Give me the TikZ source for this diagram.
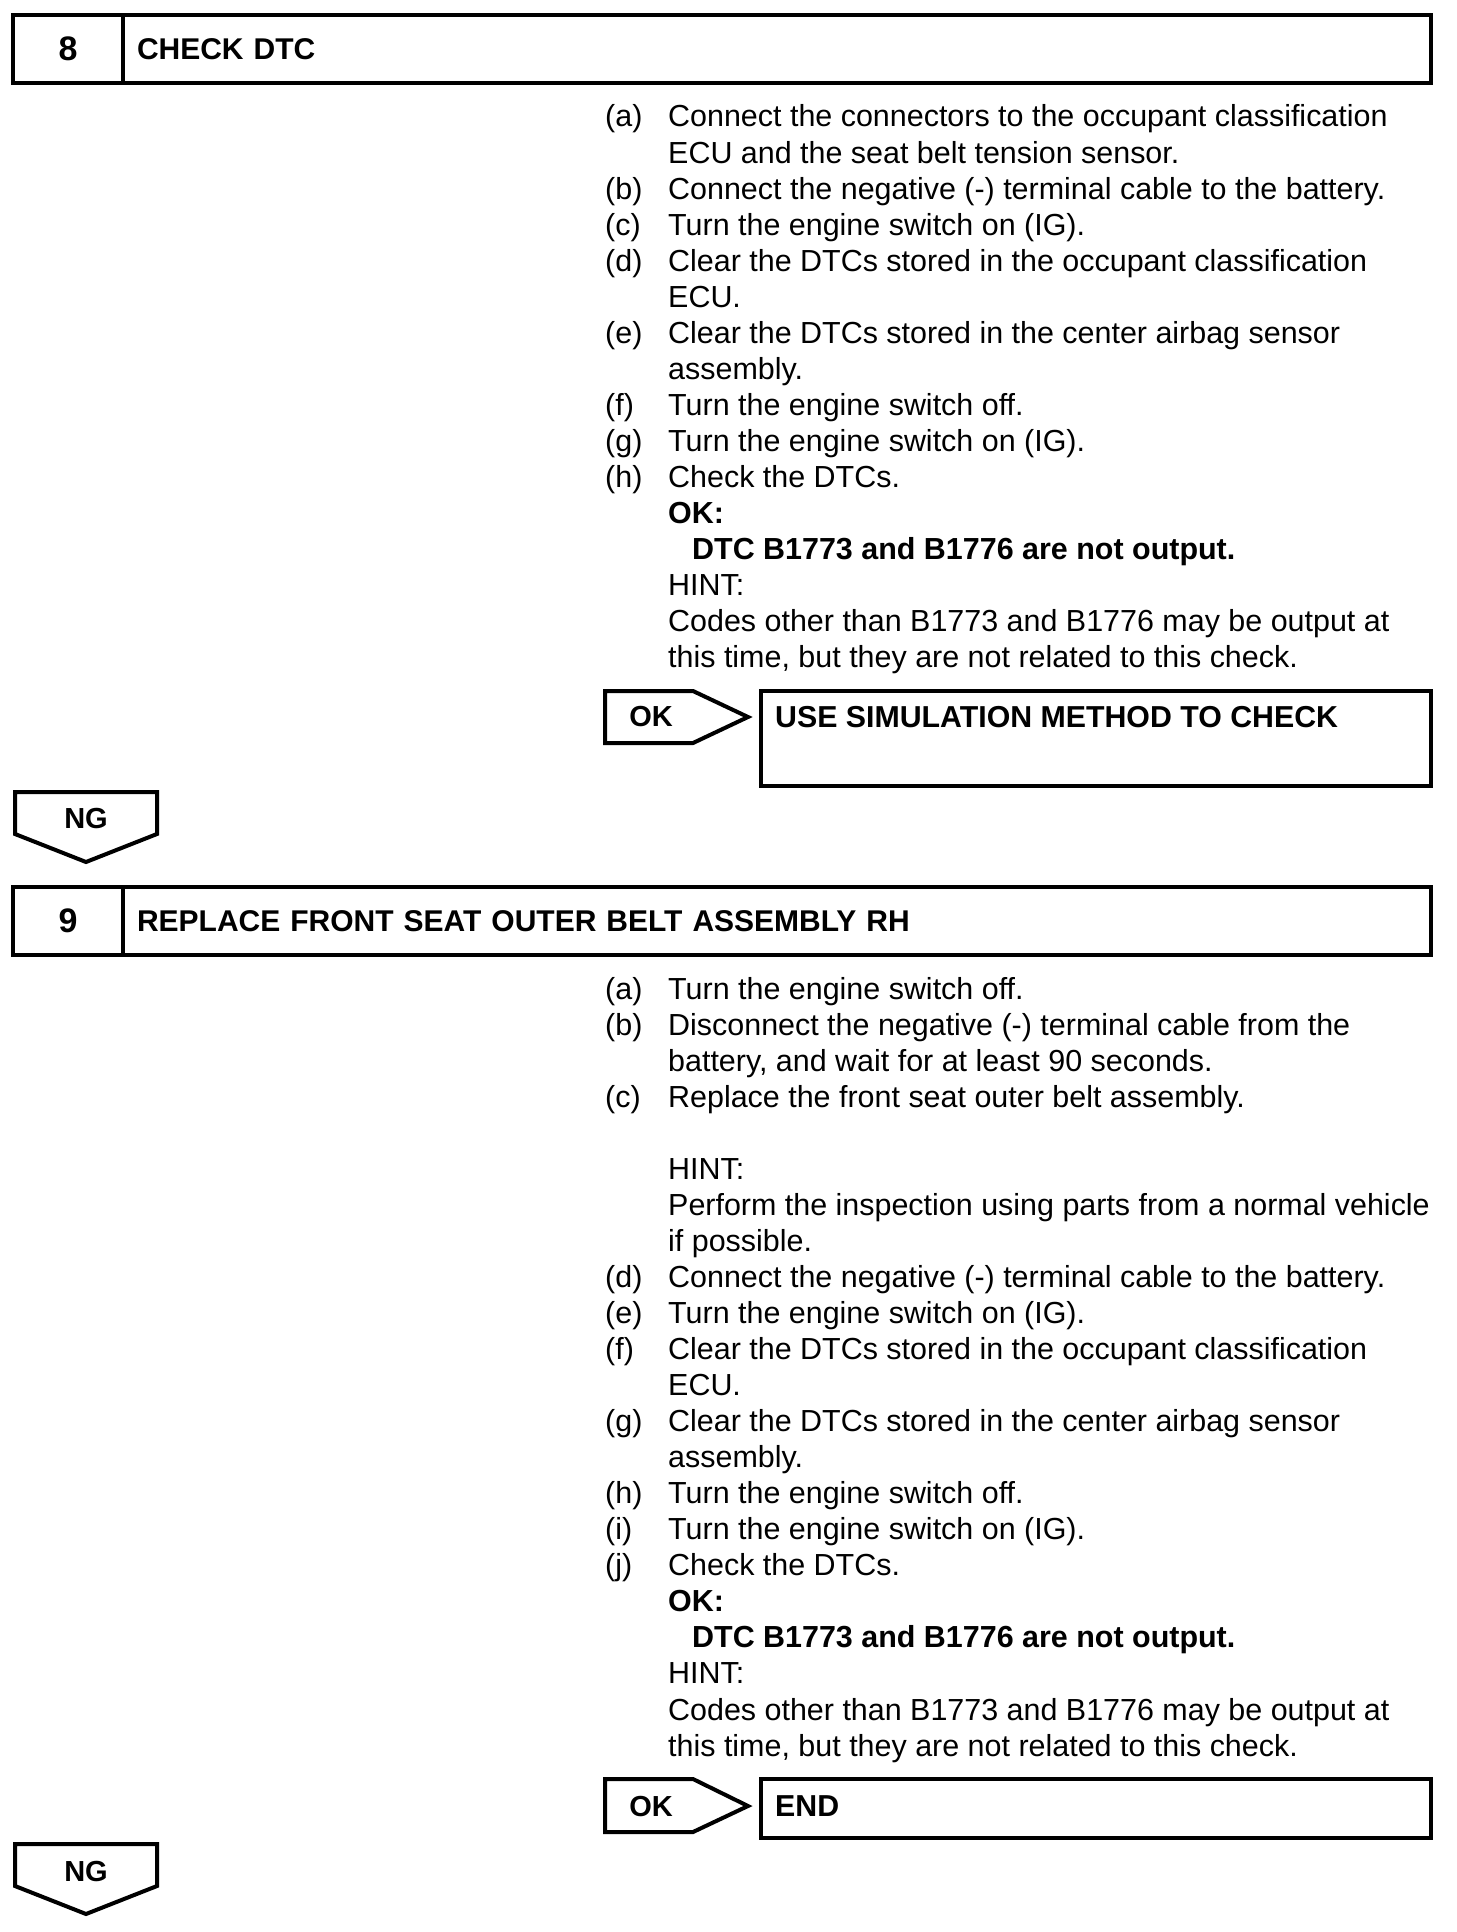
\documentclass[tikz,border=0pt]{standalone}
\usepackage{fontspec}
\setmainfont{Liberation Sans}
\usetikzlibrary{positioning}
\tikzset{
  dtc frame/.style={draw,line width=4pt,outer sep=0pt},
  dtc num/.style={dtc frame,minimum width=110pt,minimum height=68pt,inner sep=0pt,font=\fontsize{34}{40}\selectfont\bfseries},
  dtc title/.style={dtc frame,minimum height=68pt,text width=1280pt,inner xsep=14pt,inner ysep=0pt,align=left,font=\fontsize{30}{36}\selectfont\bfseries},
  dtc text/.style={anchor=base west,inner sep=0pt,font=\fontsize{30.45}{36}\selectfont},
  dtc tag/.style={inner sep=0pt,font=\fontsize{29}{34}\selectfont\bfseries}
}

\begin{document}
\begin{tikzpicture}[x=1pt,y=-1pt]
\useasboundingbox (0,0) rectangle (1456,1932);

% step 8
\node[dtc num] (num8) at (68,49) {8};
\node[dtc title,right=0pt of num8] (title8) {CHECK DTC};
\foreach \i/\lbl in {0/a,2/b,3/c,4/d,6/e,8/f,9/g,10/h}
  \node[dtc text] (lbl8\lbl) at (605,{127+36.05*\i}) {(\lbl)};
\foreach \i/\txt in {
  0/{Connect the connectors to the occupant classification},
  1/{ECU and the seat belt tension sensor.},
  2/{Connect the negative (-) terminal cable to the battery.},
  3/{Turn the engine switch on (IG).},
  4/{Clear the DTCs stored in the occupant classification},
  5/{ECU.},
  6/{Clear the DTCs stored in the center airbag sensor},
  7/{assembly.},
  8/{Turn the engine switch off.},
  9/{Turn the engine switch on (IG).},
  10/{Check the DTCs.},
  11/{\textbf{OK:}},
  12/{\hspace*{24pt}\textbf{DTC B1773 and B1776 are not output.}},
  13/{HINT:},
  14/{Codes other than B1773 and B1776 may be output at},
  15/{this time, but they are not related to this check.}}
  \node[dtc text] (txt8l\i) at (668,{127+36.05*\i}) {\txt};

% OK -> simulation method
\draw[dtc frame] (605,691) -- (693,691) -- (748,717) -- (693,743) -- (605,743) -- cycle;
\node[dtc tag] (ok8) at (651,717) {OK};
\draw[dtc frame] (761,691) rectangle (1431,786);
\node[dtc tag,anchor=west,font=\fontsize{30.3}{36}\selectfont\bfseries] (res8) at (775,717) {USE SIMULATION METHOD TO CHECK};

% NG
\draw[dtc frame] (15,792) -- (157,792) -- (157,834) -- (86,862) -- (15,834) -- cycle;
\node[dtc tag] (ng8) at (86,819) {NG};

% step 9
\node[dtc num] (num9) at (68,921) {9};
\node[dtc title,right=0pt of num9] (title9) {REPLACE FRONT SEAT OUTER BELT ASSEMBLY RH};
\foreach \i/\lbl in {0/a,1/b,3/c,8/d,9/e,10/f,12/g,14/h,15/i,16/j}
  \node[dtc text] (lbl9\lbl) at (605,{999+36.05*\i}) {(\lbl)};
\foreach \i/\txt in {
  0/{Turn the engine switch off.},
  1/{Disconnect the negative (-) terminal cable from the},
  2/{battery, and wait for at least 90 seconds.},
  3/{Replace the front seat outer belt assembly.},
  5/{HINT:},
  6/{Perform the inspection using parts from a normal vehicle},
  7/{if possible.},
  8/{Connect the negative (-) terminal cable to the battery.},
  9/{Turn the engine switch on (IG).},
  10/{Clear the DTCs stored in the occupant classification},
  11/{ECU.},
  12/{Clear the DTCs stored in the center airbag sensor},
  13/{assembly.},
  14/{Turn the engine switch off.},
  15/{Turn the engine switch on (IG).},
  16/{Check the DTCs.},
  17/{\textbf{OK:}},
  18/{\hspace*{24pt}\textbf{DTC B1773 and B1776 are not output.}},
  19/{HINT:},
  20/{Codes other than B1773 and B1776 may be output at},
  21/{this time, but they are not related to this check.}}
  \node[dtc text] (txt9l\i) at (668,{999+36.05*\i}) {\txt};

% OK -> end
\draw[dtc frame] (605,1779) -- (693,1779) -- (748,1806) -- (693,1832) -- (605,1832) -- cycle;
\node[dtc tag] (ok9) at (651,1806) {OK};
\draw[dtc frame] (761,1779) rectangle (1431,1838);
\node[dtc tag,anchor=west,font=\fontsize{30.3}{36}\selectfont\bfseries] (res9) at (775,1806) {END};

% NG
\draw[dtc frame] (15,1844) -- (157,1844) -- (157,1886) -- (86,1914) -- (15,1886) -- cycle;
\node[dtc tag] (ng9) at (86,1871) {NG};
\end{tikzpicture}
\end{document}
